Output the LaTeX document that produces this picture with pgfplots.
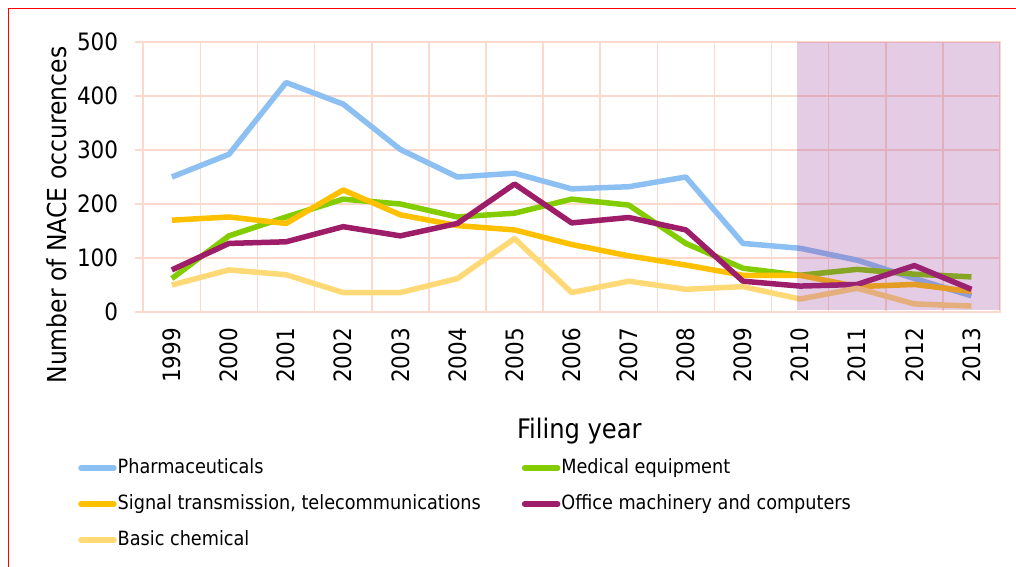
\documentclass[border=0pt]{standalone}
\usepackage{fontspec}
\setmainfont{DejaVu Sans Condensed}
\usepackage{pgfplots}
\usepackage{pgfplotstable}
\pgfplotsset{compat=1.18}

\definecolor{pharma}{RGB}{141,192,242}
\definecolor{medeq}{RGB}{130,204,0}
\definecolor{signal}{RGB}{255,192,0}
\definecolor{office}{RGB}{158,29,104}
\definecolor{basic}{RGB}{255,217,117}
\definecolor{gridc}{RGB}{251,217,204}
\definecolor{shadecol}{RGB}{150,50,150}

\pgfplotstableread{
idx pharma medeq signal office basic
0  250 62  170 78  50
1  292 141 176 127 78
2  425 176 164 130 69
3  385 209 226 158 36
4  301 200 180 141 36
5  250 176 160 164 62
6  257 183 152 237 136
7  228 209 125 165 36
8  232 198 104 175 57
9  250 127 87  152 42
10 127 81  68  57  47
11 118 68  68  48  24
12 96  79  47  51  44
13 62  70  51  86  15
14 30  65  38  42  11
}\datatable

\begin{document}
\begin{tikzpicture}
\useasboundingbox (0bp,0bp) rectangle (1016bp,567bp);
\draw[red, line width=1.5bp] (8.5bp,0bp) -- (8.5bp,558.5bp) -- (1016bp,558.5bp);
\begin{axis}[
  at={(143.3bp,255bp)}, anchor=south west,
  scale only axis, width=856.7bp, height=270bp,
  xmin=-0.5, xmax=14.5, ymin=0, ymax=500,
  xtick={0,...,14},
  xticklabels={1999,2000,2001,2002,2003,2004,2005,2006,2007,2008,2009,2010,2011,2012,2013},
  minor xtick={-0.5,0.5,...,14.5},
  ytick={0,100,...,500},
  xmajorgrids=false, xminorgrids=true, ymajorgrids=true,
  grid style={gridc, line width=1.6bp},
  minor grid style={gridc, line width=1.6bp},
  axis line style={gridc, line width=1.6bp},
  tick align=outside, tick pos=left,
  major tick length=8bp, minor tick length=8bp,
  xtick style={draw=none},
  minor x tick style={gridc, line width=1.6bp},
  ytick style={gridc, line width=1.6bp},
  /pgf/number format/assume math mode=true,
  ticklabel style={font=\fontsize{24}{28}\selectfont},
  xticklabel style={rotate=90, anchor=east, inner sep=0pt, xshift=-8bp},
  yticklabel style={anchor=east, inner sep=0pt, xshift=-17bp},
  ylabel={Number of NACE occurences},
  ylabel style={at={(axis description cs:-0.1007,0.359)}, anchor=center, font=\fontsize{26.2}{30}\selectfont},
  xlabel={Filing year},
  xlabel style={at={(axis description cs:0.509,-0.44)}, anchor=center, font=\fontsize{27}{31}\selectfont},
  every axis plot/.append style={line width=5.5bp, line join=round},
  legend columns=2,
  legend cell align=left,
  legend image code/.code={\draw[#1, line cap=round] (0bp,0bp) -- (33bp,0bp);},
  legend style={draw=none, fill=none, inner sep=0pt,
    at={(axis description cs:-0.0762,-0.5407)}, anchor=north west,
    font=\fontsize{19.7}{23}\selectfont,
    nodes={inner sep=1bp, text height=14bp, text depth=4bp},
    row sep=16bp,
    /tikz/every even column/.append style={column sep=40bp}},
]
\addplot[pharma] table[x=idx, y=pharma] {\datatable};
\addlegendentry{Pharmaceuticals}
\addplot[medeq] table[x=idx, y=medeq] {\datatable};
\addlegendentry{Medical equipment}
\addplot[signal] table[x=idx, y=signal] {\datatable};
\addlegendentry{Signal transmission, telecommunications}
\addplot[office] table[x=idx, y=office] {\datatable};
\addlegendentry{Office machinery and computers}
\addplot[basic] table[x=idx, y=basic] {\datatable};
\addlegendentry{Basic chemical}
\fill[shadecol, opacity=0.25] (axis cs:10.95,3) rectangle (axis cs:14.5,500);
\end{axis}
\end{tikzpicture}
\end{document}
